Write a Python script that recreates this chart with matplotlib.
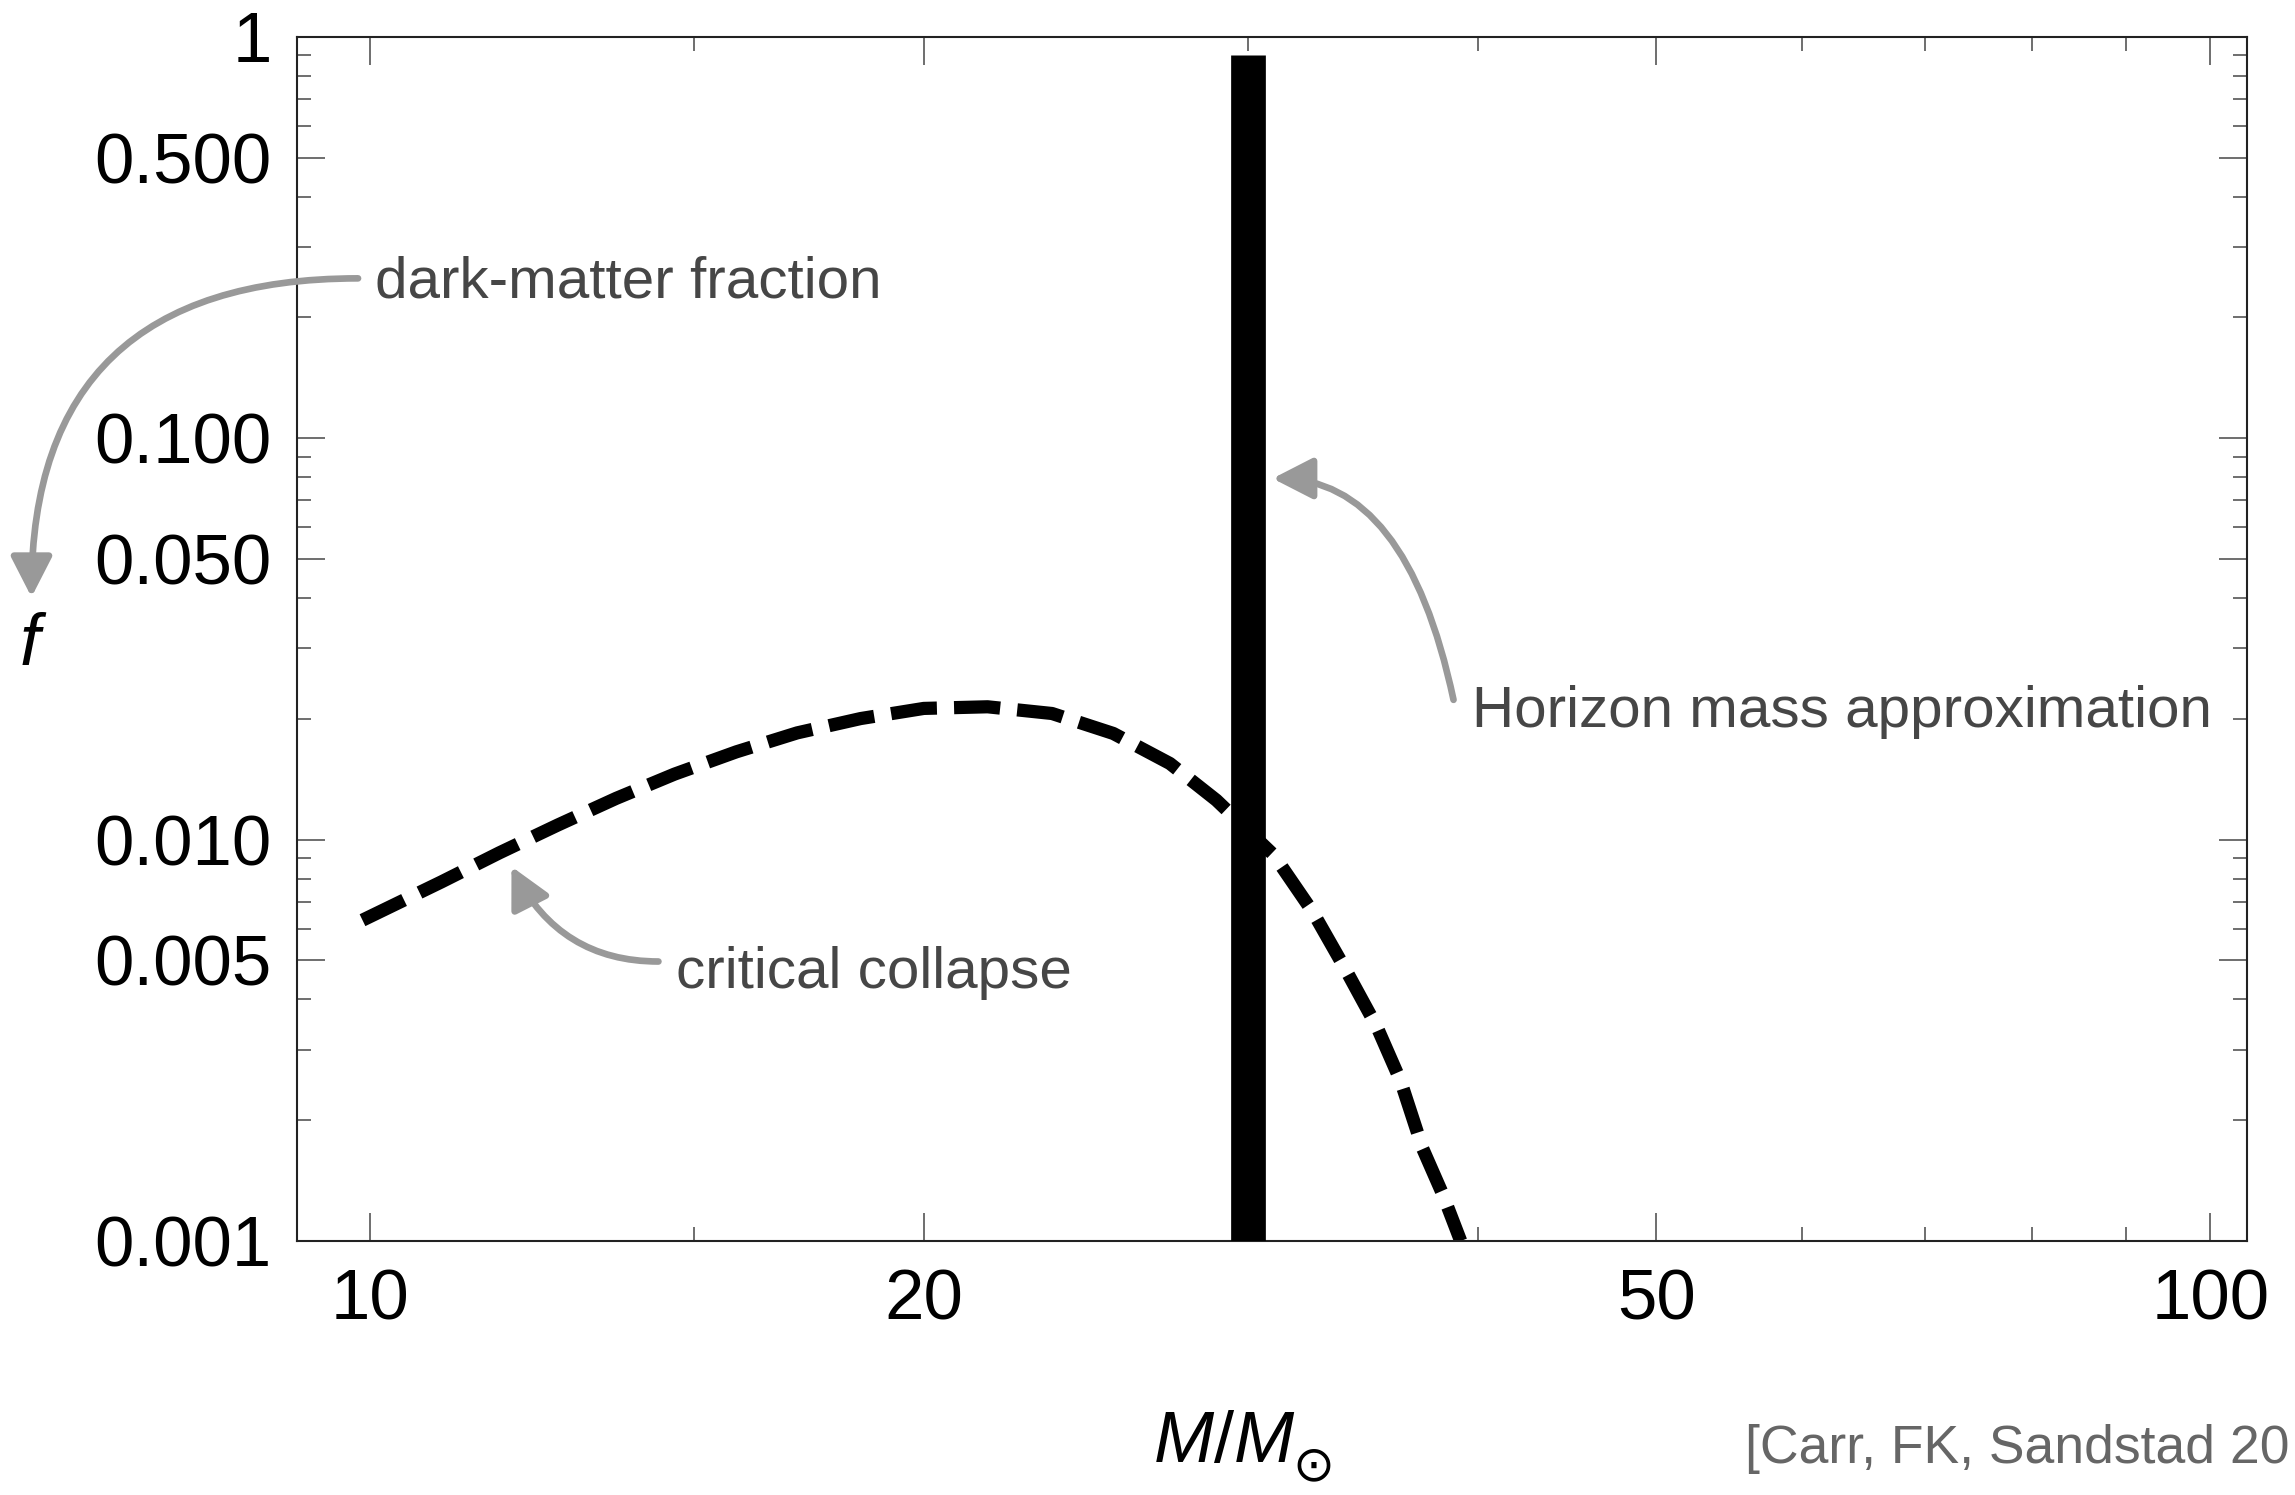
import numpy as np
import matplotlib.pyplot as plt
from matplotlib.ticker import NullFormatter

plt.rcParams['font.family'] = ['Liberation Sans', 'DejaVu Sans']
plt.rcParams['mathtext.fontset'] = 'custom'
plt.rcParams['mathtext.it'] = 'Liberation Sans:italic'
plt.rcParams['mathtext.rm'] = 'Liberation Sans'

# critical collapse mass function
mass_cc = [9.91, 10.94, 11.76, 12.65, 13.61, 14.64, 15.82, 17.07, 18.48, 20.0, 21.66,
           23.48, 25.35, 27.21, 28.84, 30.99, 32.54, 33.94, 35.27, 36.32, 37.33,
           38.3, 39.15]
f_cc = [0.0063, 0.00785, 0.00927, 0.01087, 0.01267, 0.01456, 0.01655, 0.01845,
        0.02003, 0.02123, 0.02143, 0.02062, 0.01839, 0.01548, 0.01254, 0.00915,
        0.0066, 0.0047, 0.0034, 0.0025, 0.0017, 0.0013, 0.001]

# horizon mass approximation (delta peak)
m_horizon = [30.0, 30.0]
f_horizon = [0.001, 0.9]

# axis ticks
x_major = [10, 20, 50, 100]
x_labels = ['10', '20', '50', '100']
x_minor = [15, 30, 40, 60, 70, 80, 90]
y_major = [1, 0.5, 0.1, 0.05, 0.01, 0.005, 0.001]
y_labels = ['1', '0.500', '0.100', '0.050', '0.010', '0.005', '0.001']
y_minor = [0.9, 0.8, 0.7, 0.6, 0.4, 0.3, 0.2,
           0.09, 0.08, 0.07, 0.06, 0.04, 0.03, 0.02,
           0.009, 0.008, 0.007, 0.006, 0.004, 0.003, 0.002]

fig = plt.figure(figsize=(22.95, 14.95), dpi=100)
ax = fig.add_axes([0.1294, 0.1699, 0.8497, 0.8054])
ax.set_xscale('log')
ax.set_yscale('log')

ax.plot(mass_cc, f_cc, color='black', lw=9.5, dashes=(3.5, 1.3), zorder=2)
ax.plot(m_horizon, f_horizon, color='black', lw=25, solid_capstyle='butt', zorder=3)

ax.set_xlim(9.13, 104.7)
ax.set_ylim(0.001, 1)

ax.set_xticks(x_major, labels=x_labels)
ax.set_xticks(x_minor, minor=True)
ax.set_yticks(y_major, labels=y_labels)
ax.set_yticks(y_minor, minor=True)
ax.xaxis.set_minor_formatter(NullFormatter())
ax.yaxis.set_minor_formatter(NullFormatter())

ax.tick_params(which='both', direction='in', top=True, right=True, color='#555555', width=1.2)
ax.tick_params(which='major', length=20, labelsize=51)
ax.tick_params(which='minor', length=10)
ax.tick_params(axis='x', which='major', pad=20)
ax.tick_params(axis='y', which='major', pad=18)
for sp in ax.spines.values():
    sp.set_linewidth(1.5)
    sp.set_color('#222222')

# annotations
txt_color = '#464646'
arrow_color = '#999999'

def arrow(start, tip, conn):
    ax.annotate('', xy=tip, xytext=start, xycoords='data', textcoords='data',
                annotation_clip=False,
                arrowprops=dict(arrowstyle='-|>,head_length=1.23,head_width=0.63',
                                mutation_scale=20, color=arrow_color, lw=4.8,
                                shrinkA=0, shrinkB=0, connectionstyle=conn))

arrow((9.855, 0.2503), (6.55, 0.0402), 'angle3,angleA=0,angleB=90')
ax.text(10.07, 0.2244, 'dark-matter fraction', fontsize=42, color=txt_color,
        ha='left', va='baseline')

arrow((38.8, 0.0223), (30.94, 0.0794), 'angle3,angleA=102,angleB=0')
ax.text(39.72, 0.01903, 'Horizon mass approximation', fontsize=42, color=txt_color,
        ha='left', va='baseline')

arrow((14.35, 0.00497), (11.94, 0.00857), 'angle3,angleA=0,angleB=117')
ax.text(14.66, 0.00427, 'critical collapse', fontsize=42, color=txt_color,
        ha='left', va='baseline')

# axis labels
fig.text(0.0145, 0.5552, '$f$', fontsize=52, ha='center', va='baseline')
fig.text(0.5024, 0.0221, '$M/M$', fontsize=52, ha='left', va='baseline')
fig.text(0.5721, 0.0195, '\u2299', fontsize=36, ha='center', va='center',
         family='DejaVu Sans')
fig.text(0.7603, 0.0214, '[Carr, FK, Sandstad 20', fontsize=38.5, color='#666666',
         ha='left', va='baseline')

fig.savefig('out.png', dpi=100)
